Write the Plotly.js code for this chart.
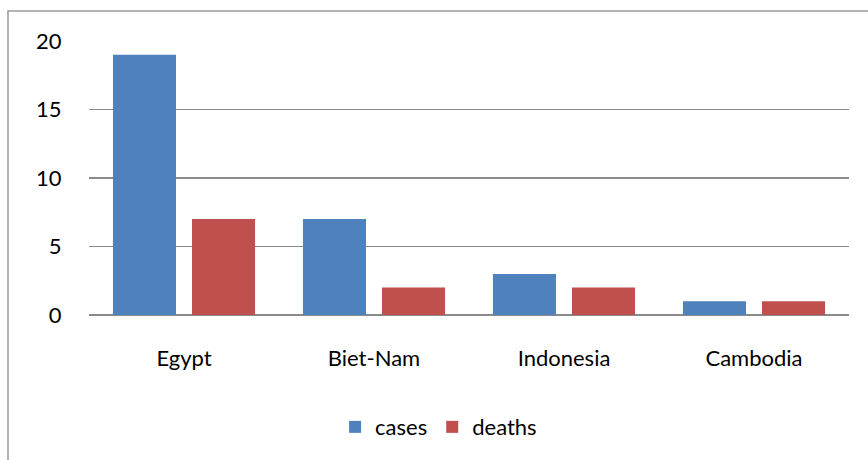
<!DOCTYPE html>
<html>
<head>
<meta charset="utf-8">
<script src="https://cdn.plot.ly/plotly-3.0.1.min.js"></script>
<style>html,body{margin:0;padding:0;background:#fff;}#chart{width:868px;height:460px;}</style>
</head>
<body>
<div id="chart"></div>
<script>
const categories = ["Egypt", "Biet-Nam", "Indonesia", "Cambodia"];
const cases = [19, 7, 3, 1];
const deaths = [7, 2, 2, 1];
const yTicks = [0, 5, 10, 15, 20];

const font = {family: "Lato, 'Open Sans', sans-serif", size: 22, color: "#000"};

const traces = [
  {type: "bar", name: "cases", x: categories, y: cases, marker: {color: "#4F81BD"}, hoverinfo: "none"},
  {type: "bar", name: "deaths", x: categories, y: deaths, marker: {color: "#C0504D"}, hoverinfo: "none"}
];

const layout = {
  width: 868, height: 460,
  margin: {l: 89, r: 19, t: 41, b: 145},
  paper_bgcolor: "#fff", plot_bgcolor: "#fff",
  font: font,
  barmode: "group", bargap: 0.168, bargroupgap: 0.2025,
  showlegend: true,
  legend: {orientation: "h", x: 0.46, xanchor: "center", y: -0.409, yanchor: "middle",
           font: font, itemwidth: 30, traceorder: "normal"},
  xaxis: {type: "category", showgrid: false, showline: false, zeroline: false,
          ticks: "outside", ticklen: 24, tickcolor: "rgba(0,0,0,0)", tickfont: font, fixedrange: true},
  yaxis: {range: [0, 20], tickvals: yTicks, ticktext: yTicks.map(String), showgrid: true,
          gridcolor: "#8a8a8a", gridwidth: 1.3, zeroline: true, zerolinecolor: "#8a8a8a", zerolinewidth: 1.5,
          showline: false, ticks: "outside", ticklen: 22, tickcolor: "rgba(0,0,0,0)", tickfont: font, fixedrange: true},
  shapes: [{type: "rect", xref: "paper", yref: "paper",
            x0: (8 - 89) / 760, x1: (880 - 89) / 760, y0: (315 - 480) / 274, y1: (315 - 11) / 274,
            line: {color: "#9a9a9a", width: 1.5}, fillcolor: "rgba(0,0,0,0)", layer: "below"}]
};

Plotly.newPlot("chart", traces, layout, {staticPlot: true, displayModeBar: false});
</script>
</body>
</html>
